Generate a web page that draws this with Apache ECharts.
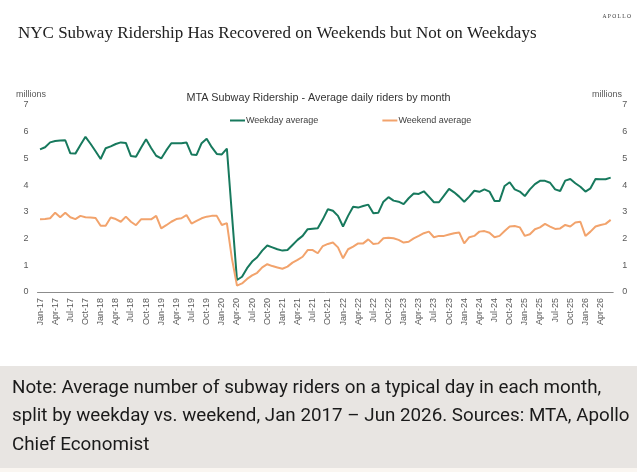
<!doctype html>
<html>
<head>
<meta charset="UTF-8">
<title>NYC Subway Ridership</title>
<style>
    html, body { margin: 0; padding: 0; background: #fff; }
    #main { width: 637px; height: 472px; }
</style>
<script src="https://cdn.jsdelivr.net/npm/echarts@6/dist/echarts.min.js"></script>
</head>
<body>
<div id="main"></div>
<script type="text/javascript">
    // months and years used to build the category labels (Jan-17 ... Jun-26)
    var monthNames = ['Jan', 'Feb', 'Mar', 'Apr', 'May', 'Jun', 'Jul', 'Aug', 'Sep', 'Oct', 'Nov', 'Dec'];
    var years = ['17', '18', '19', '20', '21', '22', '23', '24', '25', '26'];
    var lastYearMonths = 6;

    // millions of riders, average per day
    var weekday = [
        5.34, 5.42, 5.60, 5.65, 5.67, 5.68, 5.19, 5.18, 5.50, 5.81, 5.55, 5.27,
        4.98, 5.38, 5.45, 5.54, 5.60, 5.58, 5.09, 5.06, 5.40, 5.72, 5.39, 5.10,
        5.00, 5.30, 5.57, 5.57, 5.57, 5.60, 5.15, 5.13, 5.57, 5.74, 5.42, 5.17,
        5.15, 5.37, 2.90, 0.45, 0.57, 0.89, 1.14, 1.30, 1.55, 1.74, 1.67, 1.60,
        1.55, 1.57, 1.76, 1.95, 2.10, 2.35, 2.37, 2.39, 2.72, 3.10, 3.04, 2.85,
        2.45, 2.85, 3.19, 3.16, 3.22, 3.27, 2.95, 2.97, 3.38, 3.55, 3.42, 3.38,
        3.29, 3.51, 3.69, 3.67, 3.77, 3.57, 3.36, 3.36, 3.61, 3.86, 3.73, 3.57,
        3.38, 3.57, 3.79, 3.75, 3.84, 3.76, 3.41, 3.41, 3.97, 4.11, 3.84, 3.76,
        3.59, 3.84, 4.04, 4.16, 4.16, 4.09, 3.84, 3.78, 4.17, 4.23, 4.07, 3.94,
        3.76, 3.88, 4.23, 4.22, 4.22, 4.28
    ];
    var weekend = [
        2.72, 2.73, 2.76, 2.97, 2.80, 2.97, 2.80, 2.73, 2.85, 2.80, 2.79, 2.77,
        2.48, 2.48, 2.79, 2.73, 2.63, 2.82, 2.63, 2.50, 2.72, 2.72, 2.72, 2.85,
        2.38, 2.50, 2.63, 2.73, 2.76, 2.88, 2.56, 2.66, 2.76, 2.82, 2.85, 2.85,
        2.51, 2.58, 1.25, 0.24, 0.32, 0.49, 0.62, 0.72, 0.92, 1.04, 0.97, 0.92,
        0.87, 0.95, 1.10, 1.20, 1.32, 1.57, 1.57, 1.45, 1.72, 1.80, 1.85, 1.67,
        1.26, 1.60, 1.70, 1.82, 1.82, 1.97, 1.80, 1.82, 2.01, 2.03, 2.01, 1.95,
        1.85, 1.88, 2.01, 2.10, 2.20, 2.26, 2.05, 2.10, 2.10, 2.15, 2.20, 2.23,
        1.82, 2.05, 2.10, 2.26, 2.28, 2.22, 2.05, 2.10, 2.28, 2.45, 2.47, 2.42,
        2.10, 2.16, 2.35, 2.42, 2.55, 2.45, 2.36, 2.38, 2.51, 2.45, 2.60, 2.63,
        2.10, 2.26, 2.45, 2.51, 2.55, 2.70
    ];

    var categories = [];
    for (var y = 0; y < years.length; y++) {
        var n = (y === years.length - 1) ? lastYearMonths : 12;
        for (var m = 0; m < n; m++) {
            categories.push(monthNames[m] + '-' + years[y]);
        }
    }

    var GREEN = '#17795d';
    var ORANGE = '#f2a36c';
    var AXIS_TEXT = '#595959';

    var myChart = echarts.init(document.getElementById('main'));

    var valueAxis = {
        type: 'value',
        min: 0,
        max: 7,
        interval: 1,
        axisLine: {show: false},
        axisTick: {show: false},
        splitLine: {show: false},
        axisLabel: {color: AXIS_TEXT, fontSize: 9, fontFamily: 'Liberation Sans', margin: 9}
    };

    var option = {
        animation: false,
        backgroundColor: '#ffffff',
        grid: {left: 37.5, right: 23.8, top: 105, bottom: 180, containLabel: false},
        title: {
            text: 'MTA Subway Ridership - Average daily riders by month',
            left: 'center',
            top: 88,
            textStyle: {fontSize: 10.8, fontWeight: 'normal', color: '#333', fontFamily: 'Liberation Sans'}
        },
        legend: {
            left: 230,
            top: 116,
            padding: 0,
            itemGap: 64,
            itemWidth: 15,
            itemHeight: 2,
            icon: 'rect',
            textStyle: {fontSize: 9, color: '#404040', fontFamily: 'Liberation Sans', padding: [0, 0, 0, -4]},
            data: ['Weekday average', 'Weekend average']
        },
        xAxis: {
            type: 'category',
            data: categories,
            boundaryGap: true,
            axisLine: {lineStyle: {color: '#8c8c8c', width: 1}},
            axisTick: {interval: 2, length: 4, lineStyle: {color: '#8c8c8c'}},
            axisLabel: {interval: 2, rotate: 90, color: AXIS_TEXT, fontSize: 9, fontFamily: 'Liberation Sans', margin: 6}
        },
        yAxis: [
            valueAxis,
            echarts.util.merge({position: 'right'}, valueAxis, true)
        ],
        series: [
            {
                name: 'Weekday average',
                type: 'line',
                data: weekday,
                showSymbol: false,
                symbol: 'none',
                lineStyle: {color: GREEN, width: 2},
                itemStyle: {color: GREEN}
            },
            {
                name: 'Weekend average',
                type: 'line',
                data: weekend,
                showSymbol: false,
                symbol: 'none',
                lineStyle: {color: ORANGE, width: 2},
                itemStyle: {color: ORANGE}
            }
        ],
        graphic: [
            {
                type: 'text', left: 18, top: 25,
                style: {
                    text: 'NYC Subway Ridership Has Recovered on Weekends but Not on Weekdays',
                    font: '17px "Liberation Serif"', fill: '#222'
                }
            },
            {
                type: 'text', right: 6, top: 14,
                style: {text: 'A P O L L O', font: '5.5px "Liberation Serif"', fill: '#333'}
            },
            {
                type: 'text', left: 16, top: 90,
                style: {text: 'millions', font: '9px "Liberation Sans"', fill: AXIS_TEXT}
            },
            {
                type: 'text', right: 15, top: 90,
                style: {text: 'millions', font: '9px "Liberation Sans"', fill: AXIS_TEXT}
            },
            {
                type: 'rect', left: 0, top: 366,
                shape: {width: 637, height: 102},
                style: {fill: '#e8e5e2'}
            },
            {
                type: 'rect', left: 0, top: 468,
                shape: {width: 637, height: 4},
                style: {fill: '#faf6f1'}
            },
            {
                type: 'text', left: 12, top: 374,
                style: {
                    text: 'Note: Average number of subway riders on a typical day in each month,\n' +
                        'split by weekday vs. weekend, Jan 2017 \u2013 Jun 2026. Sources: MTA, Apollo\n' +
                        'Chief Economist',
                    font: '18.8px Roboto', lineHeight: 28.5, fill: '#1a1a1a'
                }
            }
        ]
    };

    myChart.setOption(option);
</script>
</body>
</html>
